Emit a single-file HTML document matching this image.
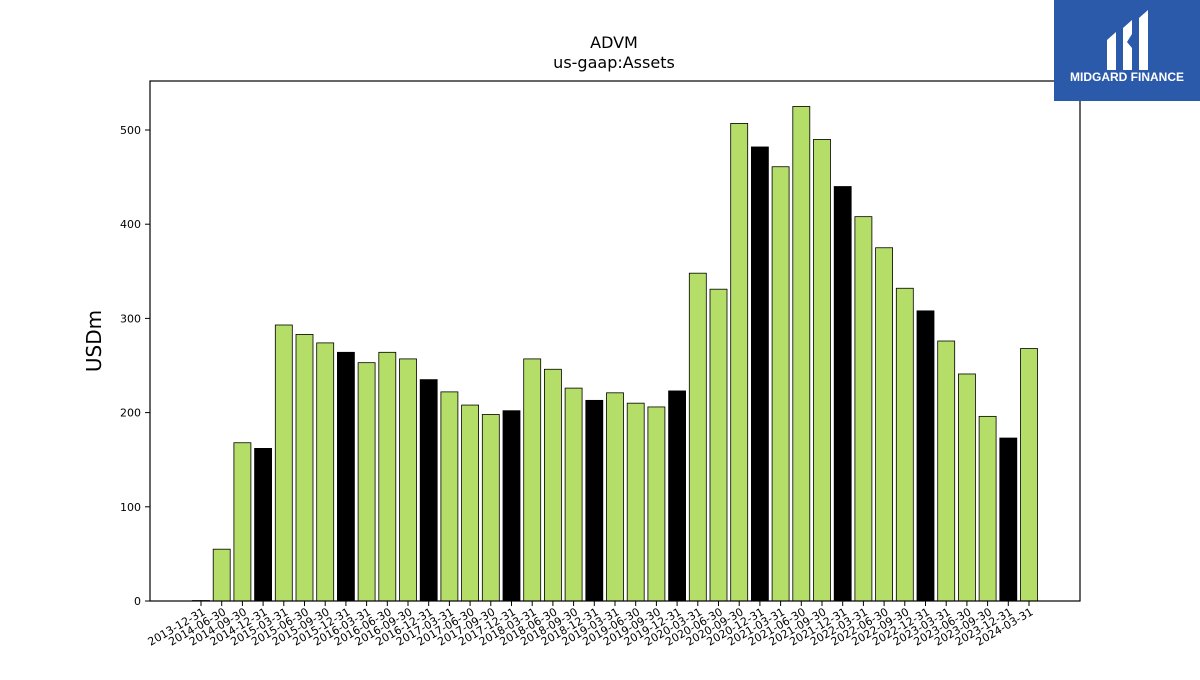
<!DOCTYPE html>
<html><head><meta charset="utf-8">
<style>
body{margin:0;background:#fff;width:1200px;height:675px;overflow:hidden;font-family:"Liberation Sans","DejaVu Sans",sans-serif;}
</style></head>
<body>
<svg id="chart" width="1200" height="675" xmlns="http://www.w3.org/2000/svg">
  <text x="614" y="48" font-size="16" text-anchor="middle" font-family="DejaVu Sans, sans-serif">ADVM</text>
  <text x="614" y="68" font-size="16" text-anchor="middle" font-family="DejaVu Sans, sans-serif">us-gaap:Assets</text>
  <text transform="translate(101,341) rotate(-90)" font-size="20" text-anchor="middle" font-family="DejaVu Sans, sans-serif">USDm</text>
  <g id="bars"></g>
  <g id="yticks"></g>
  <g id="xticks"></g>
  <rect x="150" y="81" width="930" height="520" fill="none" stroke="#000" stroke-width="1.2"/>
  <g>
    <rect x="1054" y="0" width="146" height="101" fill="#2b5aab"/>
    <path d="M1107 40 L1116 32 L1116 70 L1107 70 Z" fill="#fff"/>
    <path d="M1123 28 L1132 20 L1132 34 L1127 42 L1132 48 L1132 70 L1123 70 Z" fill="#fff"/>
    <path d="M1139 18 L1148 10 L1148 70 L1139 70 Z" fill="#fff"/>
    <text x="1127" y="81" font-size="12" font-weight="bold" fill="#fff" text-anchor="middle">MIDGARD FINANCE</text>
  </g>
</svg>
<script>
const categories=["2013-12-31","2014-06-30","2014-09-30","2014-12-31","2015-03-31","2015-06-30","2015-09-30","2015-12-31","2016-03-31","2016-06-30","2016-09-30","2016-12-31","2017-03-31","2017-06-30","2017-09-30","2017-12-31","2018-03-31","2018-06-30","2018-09-30","2018-12-31","2019-03-31","2019-06-30","2019-09-30","2019-12-31","2020-03-31","2020-06-30","2020-09-30","2020-12-31","2021-03-31","2021-06-30","2021-09-30","2021-12-31","2022-03-31","2022-06-30","2022-09-30","2022-12-31","2023-03-31","2023-06-30","2023-09-30","2023-12-31","2024-03-31"];
const values=[0.5,55,168,162,293,283,274,264,253,264,257,235,222,208,198,202,257,246,226,213,221,210,206,223,348,331,507,482,461,525,490,440,408,375,332,308,276,241,196,173,268];
const yTicks=[0,100,200,300,400,500];
const NS="http://www.w3.org/2000/svg";
const y0=601, pxPer=471/500;
function yScale(v){return y0-v*pxPer;}
function xScale(i){return 201+i*20.7;}
const bars=document.getElementById('bars');
const xt=document.getElementById('xticks');
const yt=document.getElementById('yticks');
categories.forEach((c,i)=>{
  const v=values[i];
  const r=document.createElementNS(NS,'rect');
  
  
  r.setAttribute('x',xScale(i)-8.5);
  r.setAttribute('y',yScale(v));
  r.setAttribute('width',17);
  r.setAttribute('height',y0-yScale(v));
  r.setAttribute('fill',c.endsWith('12-31')?'#000':'#b5de68');
  r.setAttribute('stroke','#000');
  r.setAttribute('stroke-width','0.8');
  bars.appendChild(r);
  const t=document.createElementNS(NS,'line');
  
  
  t.setAttribute('x1',xScale(i));t.setAttribute('x2',xScale(i));
  t.setAttribute('y1',601);t.setAttribute('y2',606);
  t.setAttribute('stroke','#000');
  xt.appendChild(t);
  const l=document.createElementNS(NS,'text');
  
  
  l.setAttribute('transform','translate('+(xScale(i)+5)+',614) rotate(-30)');
  l.setAttribute('text-anchor','end');
  l.setAttribute('font-size','11');
  l.setAttribute('font-family','DejaVu Sans, sans-serif');
  l.textContent=c;
  xt.appendChild(l);
});
yTicks.forEach(v=>{
  const t=document.createElementNS(NS,'line');
  
  
  t.setAttribute('x1',145);t.setAttribute('x2',150);
  t.setAttribute('y1',yScale(v));t.setAttribute('y2',yScale(v));
  t.setAttribute('stroke','#000');
  yt.appendChild(t);
  const l=document.createElementNS(NS,'text');
  
  
  l.setAttribute('x',141);l.setAttribute('y',yScale(v)+4);
  l.setAttribute('text-anchor','end');
  l.setAttribute('font-size','11');
  l.setAttribute('font-family','DejaVu Sans, sans-serif');
  l.textContent=v;
  yt.appendChild(l);
});
</script>
</body></html>
